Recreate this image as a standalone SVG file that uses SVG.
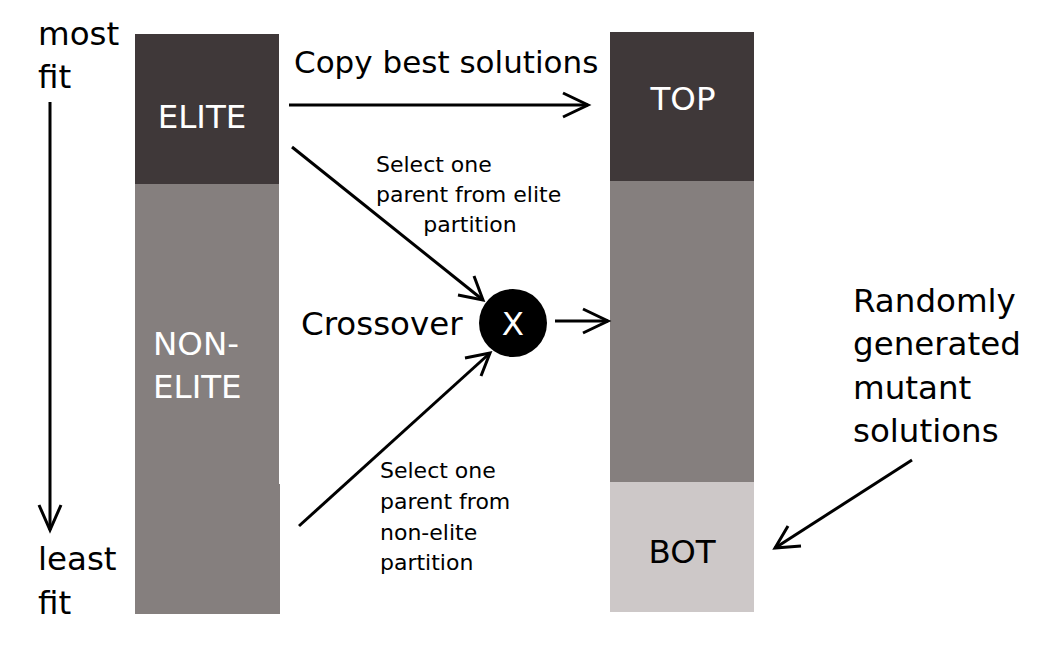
<svg xmlns="http://www.w3.org/2000/svg" width="1044" height="652" viewBox="0 0 1044 652">
<style>
text{font-family:"DejaVu Sans","Liberation Sans",sans-serif;}
.big{font-size:32.5px;fill:#000;}
.sm{font-size:22px;fill:#000;}
.w{font-size:32.5px;fill:#fff;}
.ln{stroke:#000;stroke-width:3;fill:none;}
.hd{stroke:#000;stroke-width:3;fill:none;stroke-linecap:butt;}
</style>
<rect width="1044" height="652" fill="#fff"/>
<g id="left-column">
<rect x="135" y="34" width="144" height="150" fill="#3f3839"/>
<rect x="135" y="184" width="144" height="300" fill="#857f7e"/>
<rect x="135" y="484" width="145" height="130" fill="#857f7e"/>
<text class="w" x="202" y="128" text-anchor="middle">ELITE</text>
<text class="w" x="153" y="355">NON-</text>
<text class="w" x="153" y="398">ELITE</text>
</g>
<g id="right-column">
<rect x="610" y="32" width="144" height="149" fill="#3f3839"/>
<rect x="610" y="181" width="144" height="301" fill="#857f7e"/>
<rect x="610" y="482" width="144" height="130" fill="#cdc8c8"/>
<text class="w" x="683" y="110" text-anchor="middle">TOP</text>
<text class="big" x="682" y="563" text-anchor="middle">BOT</text>
</g>
<g id="crossover">
<circle cx="513" cy="323" r="34" fill="#000"/>
<text class="w" x="513" y="335" text-anchor="middle">X</text>
<text class="big" x="301" y="335">Crossover</text>
</g>
<g id="labels">
<text class="big" x="38" y="45">most</text>
<text class="big" x="38" y="88">fit</text>
<text class="big" x="38" y="570">least</text>
<text class="big" x="38" y="614">fit</text>
<text class="big" x="294" y="73" style="font-size:31px">Copy best solutions</text>
<text class="sm" x="376" y="172">Select one</text>
<text class="sm" x="376" y="202">parent from elite</text>
<text class="sm" x="470" y="232" text-anchor="middle">partition</text>
<text class="sm" x="380" y="478">Select one</text>
<text class="sm" x="380" y="509">parent from</text>
<text class="sm" x="380" y="540">non-elite</text>
<text class="sm" x="380" y="570">partition</text>
<text class="big" x="853" y="312">Randomly</text>
<text class="big" x="853" y="355">generated</text>
<text class="big" x="853" y="399">mutant</text>
<text class="big" x="853" y="442">solutions</text>
</g>
<g id="connectors">
<path class="ln" d="M50 102 V530"/>
<path class="hd" d="M39 505 L50 530 L61 505"/>
<path class="ln" d="M289 105 H588"/>
<path class="hd" d="M563 93 L588 105 L563 117"/>
<path class="ln" d="M292 147 L483 300"/>
<path class="hd" d="M458 295 L483 300 L474 276"/>
<path class="ln" d="M299 526 L490 353"/>
<path class="hd" d="M465 358 L490 353 L481 376"/>
<path class="ln" d="M555 321 H608"/>
<path class="hd" d="M583 309 L608 321 L583 333"/>
<path class="ln" d="M912 460 L775 548"/>
<path class="hd" d="M788 526 L775 548 L801 546"/>
</g>
</svg>
